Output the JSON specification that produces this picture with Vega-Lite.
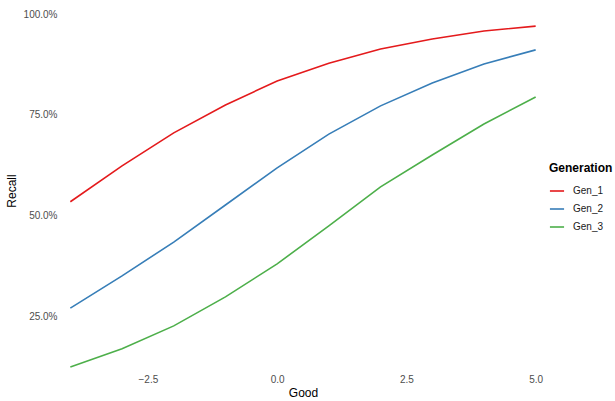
{
  "$schema": "https://vega.github.io/schema/vega-lite/v6.json",
  "autosize": {"type": "none"},
  "padding": {"left": 60, "top": 10, "right": 69, "bottom": 30},
  "width": 486,
  "height": 361,
  "background": "white",
  "config": {
    "view": {"stroke": null},
    "font": "Liberation Sans",
    "axis": {"grid": false, "domain": false, "ticks": false, "labelColor": "#4d4d4d", "labelFontSize": 10, "titleFontSize": 12, "titleFontWeight": "normal", "titleColor": "#000000"}
  },
  "data": {
    "values": [
      {"Good": -4, "Recall": 0.534, "Generation": "Gen_1"},
      {"Good": -3, "Recall": 0.623, "Generation": "Gen_1"},
      {"Good": -2, "Recall": 0.705, "Generation": "Gen_1"},
      {"Good": -1, "Recall": 0.774, "Generation": "Gen_1"},
      {"Good": 0, "Recall": 0.834, "Generation": "Gen_1"},
      {"Good": 1, "Recall": 0.878, "Generation": "Gen_1"},
      {"Good": 2, "Recall": 0.913, "Generation": "Gen_1"},
      {"Good": 3, "Recall": 0.938, "Generation": "Gen_1"},
      {"Good": 4, "Recall": 0.958, "Generation": "Gen_1"},
      {"Good": 5, "Recall": 0.970, "Generation": "Gen_1"},
      {"Good": -4, "Recall": 0.270, "Generation": "Gen_2"},
      {"Good": -3, "Recall": 0.350, "Generation": "Gen_2"},
      {"Good": -2, "Recall": 0.434, "Generation": "Gen_2"},
      {"Good": -1, "Recall": 0.526, "Generation": "Gen_2"},
      {"Good": 0, "Recall": 0.618, "Generation": "Gen_2"},
      {"Good": 1, "Recall": 0.702, "Generation": "Gen_2"},
      {"Good": 2, "Recall": 0.772, "Generation": "Gen_2"},
      {"Good": 3, "Recall": 0.829, "Generation": "Gen_2"},
      {"Good": 4, "Recall": 0.876, "Generation": "Gen_2"},
      {"Good": 5, "Recall": 0.911, "Generation": "Gen_2"},
      {"Good": -4, "Recall": 0.124, "Generation": "Gen_3"},
      {"Good": -3, "Recall": 0.169, "Generation": "Gen_3"},
      {"Good": -2, "Recall": 0.226, "Generation": "Gen_3"},
      {"Good": -1, "Recall": 0.298, "Generation": "Gen_3"},
      {"Good": 0, "Recall": 0.380, "Generation": "Gen_3"},
      {"Good": 1, "Recall": 0.474, "Generation": "Gen_3"},
      {"Good": 2, "Recall": 0.571, "Generation": "Gen_3"},
      {"Good": 3, "Recall": 0.650, "Generation": "Gen_3"},
      {"Good": 4, "Recall": 0.727, "Generation": "Gen_3"},
      {"Good": 5, "Recall": 0.794, "Generation": "Gen_3"}
    ]
  },
  "mark": {"type": "line", "strokeWidth": 1.6},
  "encoding": {
    "x": {"field": "Good", "type": "quantitative", "scale": {"domain": [-4.2, 5.2], "nice": false, "zero": false},
      "axis": {"values": [-2.5, 0, 2.5, 5], "format": ".1f", "labelPadding": 3, "titlePadding": 3, "title": "Good"}},
    "y": {"field": "Recall", "type": "quantitative", "scale": {"domain": [0.114, 1.01], "nice": false, "zero": false},
      "axis": {"values": [0.25, 0.5, 0.75, 1.0], "format": ".1%", "labelPadding": 3, "titlePadding": 5, "title": "Recall"}},
    "color": {"field": "Generation", "type": "nominal",
      "scale": {"domain": ["Gen_1", "Gen_2", "Gen_3"], "range": ["#E41A1C", "#377EB8", "#4DAF4A"]},
      "legend": {"orient": "none", "legendX": 489, "legendY": 153, "symbolType": "stroke", "symbolSize": 200, "symbolStrokeWidth": 1.6,
        "titleFontSize": 12, "titleFontWeight": "bold", "titleColor": "#000000", "titlePadding": 8,
        "labelFontSize": 10, "labelColor": "#1a1a1a", "rowPadding": 5, "labelOffset": 8}}
  }
}
